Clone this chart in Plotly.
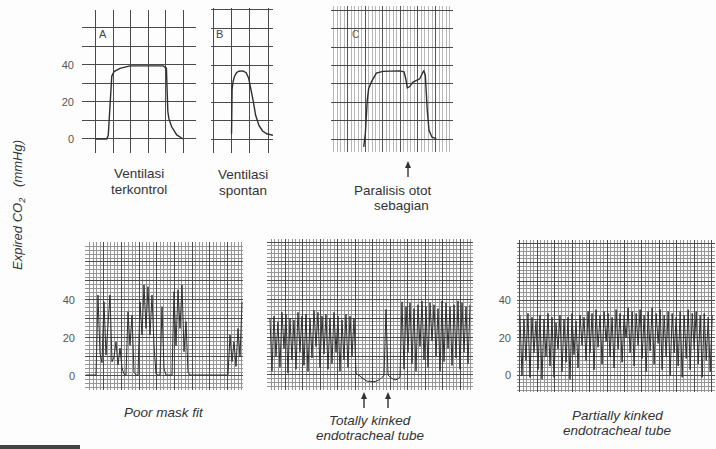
import plotly.graph_objects as go

# ---------------- data (time in chart-grid divisions, CO2 in mmHg) ----------------
# A: controlled ventilation
A_T = [0, 0.63, 0.72, 0.78, 0.84, 0.92, 1.05, 1.39, 1.96, 3.0, 3.86, 4.04, 4.08, 4.12, 4.18, 4.34, 4.63, 4.91, 5.0]
A_CO2 = [0, 0, 2, 12, 27, 34, 36.4, 38.2, 39.5, 39.6, 39.5, 38.3, 26, 15, 11, 6.6, 2.2, 0.4, 0]

# B: spontaneous ventilation
B_T = [1.0, 1.01, 1.03, 1.08, 1.16, 1.27, 1.4, 1.62, 1.8, 1.94, 2.05, 2.18, 2.32, 2.5, 2.7, 2.93, 3.27]
B_CO2 = [3, 20, 27, 31, 34, 36, 36.8, 37, 36, 33, 28, 21, 13, 7.5, 4.5, 3, 2.2]

# C: partial muscle paralysis
C_T = [0.9, 0.99, 1.1, 1.18, 1.33, 1.62, 2.0, 2.95, 3.2, 3.3, 3.39, 3.53, 3.71, 4.1, 4.33, 4.42, 4.53, 4.63, 4.8, 5.05]
C_CO2 = [-4, 3, 21, 27.4, 31, 35.9, 36.8, 37.1, 36.6, 33, 27.9, 28.6, 31, 32.8, 37.3, 34.6, 15.7, 4.9, 1.2, 0.4]

# D: poor mask fit (one sample every D_DT divisions)
D_DT = 0.113
D_CO2 = [0.5, 0.5, 0.5, 0.5, 0.5, 0.5,
         42.6, 12, 7, 39, 11, 30, 42.6, 7.5, 10, 18, 5.8, 14.7, 4.2, 1,
         0.5, 33.8, 16, 32, 2, 0.5, 0.5,
         39, 21.6, 47.9, 25, 47, 21.6, 42.6, 16, 1,
         0.5, 0.5, 36.5, 4, 0.5, 0.5, 0.5, 0.5,
         44.4, 16, 45.3, 25, 47.9, 12.8, 28.6, 2,
         0.5, 0.5, 0.5, 0.5, 0.5, 0.5, 0.5, 0.5, 0.5, 0.5,
         0.5, 0.5, 0.5, 0.5, 0.5, 0.5, 0.5, 0.5, 0.5, 0.5,
         21.6, 7.5, 18, 5, 25, 10, 39]

# E: totally kinked endotracheal tube
E_T0 = 0.14
E_DT = 0.1143
E_LEFT_PEAKS = [30, 31, 28, 33, 32, 30, 29, 33, 31, 32, 30, 34, 33, 31, 32, 30, 33, 31, 29, 32, 31, 30]
E_LEFT_TROUGHS = [2, 10, 4, 14, 1, 8, 3, 12, 5, 2, 9, 15, 4, 11, 3, 6, 12, 2, 8, 4, 10, 1]
E_KINK = [0, -0.5, -1.5, -2.5, -3, -3.3, -3.5, -3.5, -3.5, -3.3, -3, -2.3, -1.2, -0.3,
          34.5, 0, -1, -2, -2.5, -2.5, -2, -1, 38.5]
E_RIGHT_TROUGHS = [3, 12, 6, 2, 15, 8, 4, 18, 10, 2, 7, 14, 5, 9, 3, 12, 6]
E_RIGHT_PEAKS = [36, 38, 35, 37, 39, 36, 38, 37, 35, 39, 38, 36, 37, 39, 38, 36, 37]

# F: partially kinked endotracheal tube
F_DT = 0.115
F_PEAKS = [32, 30, 33, 31, 29, 32, 30, 33, 31, 28, 32, 30, 31, 33, 29, 32, 31, 34, 33, 35,
           32, 34, 33, 31, 35, 33, 32, 36, 34, 33, 35, 32, 34, 36, 33, 35, 32, 34, 33, 31,
           34, 32, 35, 33, 34, 32, 33, 31, 32]
F_TROUGHS = [0, 8, -1, 12, 3, -2, 10, 5, -1, 14, 2, 7, -2, 11, 4, 16, 8, 12, 3, 15,
             6, 18, 10, 4, 14, 7, 20, 12, 5, 16, 9, 2, 13, 6, 17, 3, 10, 0, 12, 5,
             -1, 9, 3, 14, 6, -1, 8, 2]

Y_TICKS = [0, 10, 20, 30, 40, 50, 60, 70]
Y_LABELS = ["0", "", "20", "", "40", "", "", ""]

# ---------------- build series ----------------
def interleave(a, b):
    out = []
    for i in range(max(len(a), len(b))):
        if i < len(a):
            out.append(a[i])
        if i < len(b):
            out.append(b[i])
    return out

D_T = [i * D_DT for i in range(len(D_CO2))]
E_CO2 = interleave(E_LEFT_PEAKS, E_LEFT_TROUGHS) + E_KINK + interleave(E_RIGHT_TROUGHS, E_RIGHT_PEAKS)
E_T = [E_T0 + i * E_DT for i in range(len(E_CO2))]
F_CO2 = interleave(F_PEAKS, F_TROUGHS)
F_T = [i * F_DT for i in range(len(F_CO2))]

W, H = 716, 449
FONT = "Liberation Sans, Arial, sans-serif"
TRACE = "#2f2f2f"
GRID = "#4a4a4a"

def dx(l, r):
    return [l / W, r / W]

def dy(t, b):
    return [1 - b / H, 1 - t / H]

fig = go.Figure()
series = [(A_T, A_CO2, "x", "y", 1.4), (B_T, B_CO2, "x2", "y2", 1.4), (C_T, C_CO2, "x3", "y3", 1.4),
          (D_T, D_CO2, "x4", "y4", 1.0), (E_T, E_CO2, "x5", "y5", 1.0), (F_T, F_CO2, "x6", "y6", 1.0)]
for xs, ys, xa, ya, w in series:
    fig.add_trace(go.Scatter(x=xs, y=ys, xaxis=xa, yaxis=ya, mode="lines",
                             line=dict(color=TRACE, width=w), showlegend=False, hoverinfo="skip"))

def xax(dom, rng, anchor, minor=None, gw=1.3, gc=GRID):
    d = dict(domain=dom, range=rng, anchor=anchor, tick0=0, dtick=1, showgrid=True,
             gridcolor=gc, gridwidth=gw, zeroline=False, showticklabels=False, ticks="",
             showline=False, fixedrange=True, layer="below traces")
    if minor:
        d["minor"] = minor
    return d

def yax(dom, rng, anchor, labels=False, standoff=6, minor=None, gw=1.3, gc=GRID):
    d = dict(domain=dom, range=rng, anchor=anchor, tickvals=Y_TICKS,
             ticktext=Y_LABELS if labels else [""] * len(Y_TICKS),
             showticklabels=labels, showgrid=True, gridcolor=gc, gridwidth=gw,
             zeroline=False, ticks="", showline=False, fixedrange=True,
             tickfont=dict(family=FONT, size=11, color="#555"), ticklabelstandoff=standoff)
    if minor:
        d["minor"] = minor
    return d

fine_x = dict(dtick=0.2, tick0=0, showgrid=True, gridcolor="#969696", gridwidth=0.6, ticks="")
fine_y = dict(dtick=2, tick0=0, showgrid=True, gridcolor="#969696", gridwidth=0.6, ticks="")
fine_xc = dict(dtick=0.2, tick0=0, showgrid=True, gridcolor="#b8b8b8", gridwidth=0.7, ticks="")

fig.update_layout(
    width=W, height=H, margin=dict(l=0, r=0, t=0, b=0),
    paper_bgcolor="#fdfdfd", plot_bgcolor="#fdfdfd", showlegend=False,
    xaxis=xax(dx(82, 196), [-0.78, 5.73], "y"),
    yaxis=yax(dy(10, 153), [-7.57, 69.7], "x", labels=True, standoff=7),
    xaxis2=xax(dx(211, 273), [-0.125, 3.27], "y2"),
    yaxis2=yax(dy(8, 153), [-7.4, 71], "x2"),
    xaxis3=xax(dx(331, 453), [-0.97, 6.0], "y3", minor=fine_xc, gw=1.1, gc="#555"),
    yaxis3=yax(dy(6, 152), [-6.8, 72.2], "x3"),
    xaxis4=xax(dx(85, 243), [-0.056, 8.87], "y4", minor=fine_x, gw=1.0, gc="#4c4c4c"),
    yaxis4=yax(dy(242, 390), [-7.37, 70.5], "x4", labels=True, standoff=9, minor=fine_y, gw=1.0, gc="#4c4c4c"),
    xaxis5=xax(dx(267, 473), [-0.03, 11.74], "y5", minor=fine_x, gw=1.0, gc="#4c4c4c"),
    yaxis5=yax(dy(239, 390), [-7.9, 71.6], "x5", minor=fine_y, gw=1.0, gc="#4c4c4c"),
    xaxis6=xax(dx(517, 715), [-0.17, 11.2], "y6", minor=fine_x, gw=1.0, gc="#4c4c4c"),
    yaxis6=yax(dy(240, 392), [-8.8, 72], "x6", labels=True, standoff=5, minor=fine_y, gw=1.0, gc="#4c4c4c"),
)

def txt(x, y, s, size=13.5, italic=False, color="#333"):
    return dict(x=x / W, y=1 - y / H, xref="paper", yref="paper", text=s, showarrow=False,
                xanchor="center", yanchor="middle", align="center", borderpad=0,
                font=dict(family=FONT, size=size, color=color, style="italic" if italic else "normal"))

annotations = [
    txt(102.5, 34.5, "A", size=11, color="#444"),
    txt(219.5, 34, "B", size=11, color="#444"),
    txt(355, 34.5, "C", size=10, color="#555"),
    txt(139, 173, "Ventilasi"),
    txt(139, 189, "terkontrol"),
    txt(243, 174, "Ventilasi"),
    txt(243, 190, "spontan"),
    txt(393, 190, "Paralisis otot"),
    txt(401, 205, "sebagian"),
    txt(164, 412, "Poor mask fit", italic=True),
    txt(370, 420, "Totally kinked", italic=True),
    txt(370, 435, "endotracheal tube", italic=True),
    txt(617, 415, "Partially kinked", italic=True),
    txt(617, 430, "endotracheal tube", italic=True),
    dict(x=18 / W, y=1 - 205 / H, xref="paper", yref="paper",
         text="Expired CO<sub>2</sub>&nbsp;&nbsp;&nbsp;(mmHg)", showarrow=False, textangle=-90,
         xanchor="center", yanchor="middle",
         font=dict(family=FONT, size=13, color="#333", style="italic")),
]
fig.update_layout(annotations=annotations)

# arrows (line + head) in pixel positions of the page
def add_arrow(x, ytip, ytail):
    fig.add_shape(type="line", xref="paper", yref="paper",
                  x0=x / W, x1=x / W, y0=1 - (ytip + 5) / H, y1=1 - ytail / H,
                  line=dict(color="#333", width=1.4))
    fig.add_shape(type="path", xref="paper", yref="paper",
                  path="M {a},{b} L {c},{d} L {e},{d} Z".format(
                      a=x / W, b=1 - ytip / H, c=(x - 3) / W, d=1 - (ytip + 7) / H, e=(x + 3) / W),
                  fillcolor="#333", line=dict(width=0))

add_arrow(408, 161, 177)
add_arrow(364, 392, 408)
add_arrow(388, 392, 408)

fig.add_shape(type="rect", xref="paper", yref="paper", x0=0, x1=80 / W, y0=0, y1=4 / H,
              fillcolor="#444", line=dict(width=0))

fig.write_html("out.html", config={"displayModeBar": False},
               post_script="document.body.style.margin='0';document.body.style.overflow='hidden';")
